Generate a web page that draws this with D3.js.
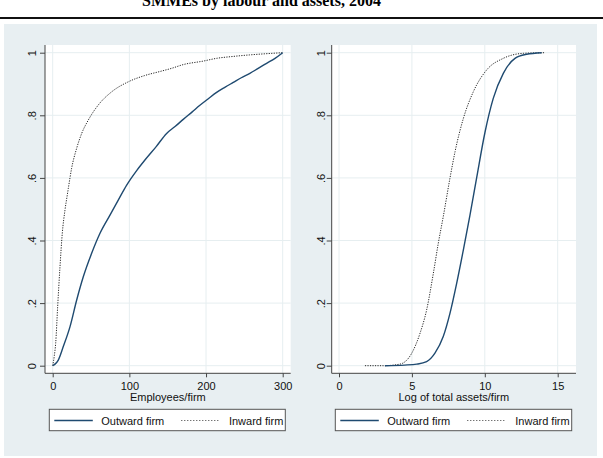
<!DOCTYPE html>
<html>
<head>
<meta charset="utf-8">
<script src="https://cdn.jsdelivr.net/npm/d3@7"></script>
<style>
  body { margin: 0; background: #fff; }
  svg { display: block; font-family: "Liberation Sans", Arial, Helvetica, sans-serif; }
</style>
</head>
<body>
<div id="chart"></div>
<script>
// employees per firm vs cumulative share
const empOutwardX = [0, 3, 7.3, 13.8, 22.6, 31.3, 39.9, 50.8, 61.7, 74.7, 85.5, 96.5, 110, 120.3, 135, 148.6, 160, 170.3, 182, 192, 203, 213.8, 225, 235.5, 246, 257.2, 268, 279, 290, 300];
const empOutwardY = [0, 0.005, 0.018, 0.061, 0.125, 0.21, 0.284, 0.359, 0.423, 0.481, 0.529, 0.577, 0.625, 0.657, 0.70, 0.742, 0.765, 0.787, 0.811, 0.832, 0.853, 0.873, 0.89, 0.905, 0.92, 0.934, 0.95, 0.966, 0.982, 1];
const empInwardX = [0, 2, 3.9, 6.5, 9.5, 12.5, 16, 19, 20.4, 24.7, 31.3, 37.8, 46.5, 59.5, 76.9, 98.6, 120, 140, 155, 170.3, 196, 213.8, 235, 257, 280, 300];
const empInwardY = [0, 0.03, 0.072, 0.19, 0.316, 0.423, 0.497, 0.545, 0.567, 0.631, 0.695, 0.742, 0.785, 0.833, 0.875, 0.907, 0.927, 0.94, 0.95, 0.962, 0.973, 0.982, 0.988, 0.993, 0.997, 1];

// log of total assets per firm vs cumulative share
const assetOutwardX = [3.15, 4.5, 5.33, 6.01, 6.58, 7.15, 7.61, 8.07, 8.53, 8.98, 9.44, 10.01, 10.58, 11.27, 12.07, 12.87, 13.9];
const assetOutwardY = [0, 0.002, 0.005, 0.013, 0.04, 0.093, 0.167, 0.263, 0.37, 0.48, 0.60, 0.745, 0.854, 0.934, 0.982, 0.995, 1];
const assetInwardX = [1.78, 3.04, 4.18, 4.99, 5.56, 6.01, 6.47, 6.81, 7.15, 7.61, 7.96, 8.53, 9.21, 10.13, 11.27, 12.64, 14.13];
const assetInwardY = [0, 0, 0.005, 0.04, 0.104, 0.178, 0.295, 0.391, 0.476, 0.599, 0.684, 0.79, 0.875, 0.945, 0.982, 0.998, 1];

const yTicks = [0, 0.2, 0.4, 0.6, 0.8, 1];
const empTicks = [0, 100, 200, 300];
const assetTicks = [0, 5, 10, 15];
const seriesNames = ['Outward firm', 'Inward firm'];

const zip = (xs, ys) => xs.map((x, i) => [x, ys[i]]);

const svg = d3.select('#chart').append('svg')
  .attr('width', 603)
  .attr('height', 458);

// title (cut off at the top) and rule
svg.append('text')
  .attr('x', 261.5)
  .attr('y', 6)
  .attr('text-anchor', 'middle')
  .style('font-family', '"Liberation Serif", "Times New Roman", serif')
  .style('font-weight', 'bold')
  .style('font-size', '16px')
  .text('SMMEs by labour and assets, 2004');

svg.append('line')
  .attr('x1', 0).attr('x2', 603)
  .attr('y1', 18).attr('y2', 18)
  .attr('stroke', '#111')
  .attr('stroke-width', 2.2);

// graph region
svg.append('rect')
  .attr('x', 4).attr('y', 24)
  .attr('width', 593).attr('height', 432)
  .attr('fill', '#e8eff2');

class CdfPanel {
  constructor(_config, _data) {
    this.config = {
      box: _config.box,
      xDomain: _config.xDomain,
      xRange: _config.xRange,
      xTicks: _config.xTicks,
      xTitle: _config.xTitle,
      yLabelOffset: _config.yLabelOffset || 12,
      legend: _config.legend
    };
    this.data = _data;
    this.initVis();
  }

  initVis() {
    let vis = this;
    const b = vis.config.box;

    vis.x = d3.scaleLinear().domain(vis.config.xDomain).range(vis.config.xRange);
    vis.y = d3.scaleLinear().domain([0, 1]).range([365.7, 52.7]);

    vis.g = svg.append('g');

    vis.g.append('rect')
      .attr('x', b.left).attr('y', b.top)
      .attr('width', b.right - b.left).attr('height', b.bottom - b.top)
      .attr('fill', '#fff');

    // grid
    vis.g.selectAll('.hgrid')
      .data(yTicks)
      .join('line')
      .attr('class', 'hgrid')
      .attr('x1', b.left).attr('x2', b.right)
      .attr('y1', d => vis.y(d)).attr('y2', d => vis.y(d))
      .attr('stroke', '#e6eef0')
      .attr('stroke-width', 1);

    vis.g.selectAll('.vgrid')
      .data(vis.config.xTicks)
      .join('line')
      .attr('class', 'vgrid')
      .attr('x1', d => vis.x(d)).attr('x2', d => vis.x(d))
      .attr('y1', b.top).attr('y2', b.bottom)
      .attr('stroke', '#e6eef0')
      .attr('stroke-width', 1);

    // axes
    const xAxis = d3.axisBottom(vis.x).tickValues(vis.config.xTicks).tickSize(4).tickPadding(5);
    const xg = vis.g.append('g')
      .attr('transform', `translate(0,${b.bottom})`)
      .call(xAxis);
    xg.select('.domain').remove();
    xg.selectAll('line').attr('stroke', '#444');
    xg.selectAll('text').style('font-size', '11px').attr('fill', '#111');

    const yAxis = d3.axisLeft(vis.y).tickValues(yTicks).tickSize(5)
      .tickFormat(d => d === 0 ? '0' : d === 1 ? '1' : d3.format('.1f')(d).replace(/^0/, ''));
    const yg = vis.g.append('g')
      .attr('transform', `translate(${b.left},0)`)
      .call(yAxis);
    yg.select('.domain').remove();
    yg.selectAll('line').attr('stroke', '#444');
    yg.selectAll('text')
      .attr('x', null).attr('dy', null)
      .attr('text-anchor', 'middle')
      .attr('transform', `translate(${-vis.config.yLabelOffset},0) rotate(-90) translate(0,4)`)
      .style('font-size', '11px')
      .attr('fill', '#111');

    vis.g.append('line')
      .attr('x1', b.left).attr('x2', b.left)
      .attr('y1', b.top).attr('y2', b.bottom)
      .attr('stroke', '#444');
    vis.g.append('line')
      .attr('x1', b.left).attr('x2', b.right)
      .attr('y1', b.bottom).attr('y2', b.bottom)
      .attr('stroke', '#444');

    vis.g.append('text')
      .attr('x', (b.left + b.right) / 2)
      .attr('y', 401)
      .attr('text-anchor', 'middle')
      .style('font-size', '11px')
      .attr('fill', '#111')
      .text(vis.config.xTitle);

    vis.renderVis();
  }

  renderVis() {
    let vis = this;
    const line = d3.line()
      .x(d => vis.x(d[0]))
      .y(d => vis.y(d[1]))
      .curve(d3.curveMonotoneX);

    vis.g.append('path')
      .datum(vis.data.inward)
      .attr('d', line)
      .attr('fill', 'none')
      .attr('stroke', '#262626')
      .attr('stroke-width', 1)
      .attr('stroke-dasharray', '1.2,1.3');

    vis.g.append('path')
      .datum(vis.data.outward)
      .attr('d', line)
      .attr('fill', 'none')
      .attr('stroke', '#1f4a70')
      .attr('stroke-width', 1.4);

    // legend
    const L = vis.config.legend;
    const lg = vis.g.append('g');
    lg.append('rect')
      .attr('x', L.left).attr('y', 409.3)
      .attr('width', L.right - L.left).attr('height', 21.4)
      .attr('fill', '#fff')
      .attr('stroke', '#555');
    lg.append('line')
      .attr('x1', L.left + 5).attr('x2', L.left + 43.5)
      .attr('y1', 420.5).attr('y2', 420.5)
      .attr('stroke', '#1f4a70').attr('stroke-width', 1.4);
    lg.append('text')
      .attr('x', L.left + 52).attr('y', 424.5)
      .style('font-size', '11px').attr('fill', '#111')
      .text(seriesNames[0]);
    lg.append('line')
      .attr('x1', L.left + 132).attr('x2', L.left + 171)
      .attr('y1', 420.5).attr('y2', 420.5)
      .attr('stroke', '#3a3a3a').attr('stroke-width', 1)
      .attr('stroke-dasharray', '1,2');
    lg.append('text')
      .attr('x', L.right - 2).attr('y', 424.5)
      .attr('text-anchor', 'end')
      .style('font-size', '11px').attr('fill', '#111')
      .text(seriesNames[1]);
  }
}

new CdfPanel({
  box: { left: 45, right: 290.7, top: 45, bottom: 373.3 },
  xDomain: [0, 300],
  xRange: [52.7, 282.7],
  xTicks: empTicks,
  xTitle: 'Employees/firm',
  yLabelOffset: 13,
  legend: { left: 49.3, right: 285.3 }
}, { outward: zip(empOutwardX, empOutwardY), inward: zip(empInwardX, empInwardY) });

new CdfPanel({
  box: { left: 331.7, right: 576, top: 45, bottom: 373.3 },
  xDomain: [0, 15],
  xRange: [339, 557.7],
  xTicks: assetTicks,
  xTitle: 'Log of total assets/firm',
  yLabelOffset: 11,
  legend: { left: 335.3, right: 571.7 }
}, { outward: zip(assetOutwardX, assetOutwardY), inward: zip(assetInwardX, assetInwardY) });
</script>
</body>
</html>
